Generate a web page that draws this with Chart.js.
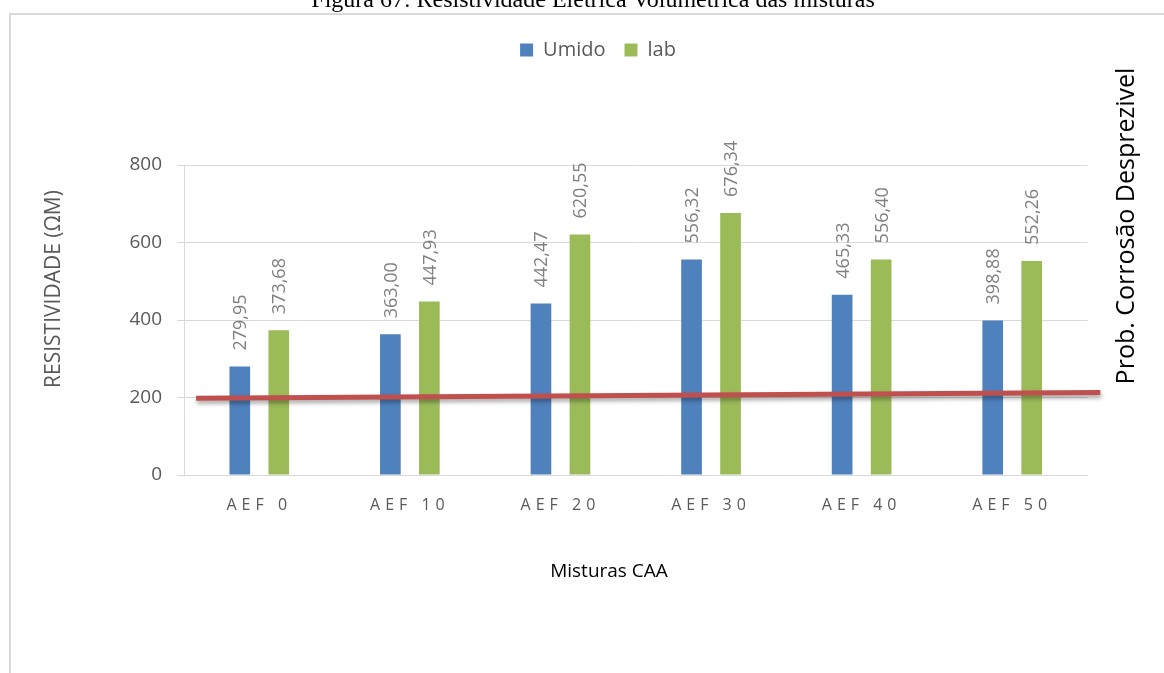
<!DOCTYPE html>
<html>
<head>
<meta charset="utf-8">
<script src="https://cdn.jsdelivr.net/npm/chart.js@4.4.1/dist/chart.umd.min.js"></script>
<style>
  html, body { margin: 0; padding: 0; background: #fff; overflow: hidden; }
  canvas { display: block; }
</style>
</head>
<body>
<canvas id="grafico" width="1164" height="673"></canvas>
<script>
// Misturas e resistividade elétrica volumétrica (Ω·m)
const categorias = ['AEF 0', 'AEF 10', 'AEF 20', 'AEF 30', 'AEF 40', 'AEF 50'];
const umido = [279.95, 363.00, 442.47, 556.32, 465.33, 398.88];
const lab = [373.68, 447.93, 620.55, 676.34, 556.40, 552.26];
// linha de referência (limite de corrosão desprezível), em unidades de categoria
const limiteX = [-0.42, 5.585];
const limiteY = [198, 213];
const yMin = 0, yMax = 800, yPasso = 200;

const FONTE = '"Open Sans", "DejaVu Sans", sans-serif';
const CINZA = '#595959';

const fmt = v => v.toFixed(2).replace('.', ',');

const decoracao = {
  id: 'decoracao',
  beforeDraw(chart) {
    const ctx = chart.ctx;
    ctx.save();
    ctx.fillStyle = '#fff';
    ctx.fillRect(0, 0, chart.width, chart.height);
    // moldura do gráfico
    ctx.strokeStyle = '#d9d9d9';
    ctx.lineWidth = 2;
    ctx.beginPath();
    ctx.moveTo(10, chart.height + 5);
    ctx.lineTo(10, 14);
    ctx.lineTo(chart.width + 5, 14);
    ctx.stroke();
    // legenda da figura
    ctx.fillStyle = '#000';
    ctx.font = '24px "Liberation Serif", "Times New Roman", serif';
    ctx.textAlign = 'center';
    ctx.textBaseline = 'alphabetic';
    ctx.fillText('Figura 67: Resistividade Elétrica Volumétrica das misturas', 593, 7);
    ctx.restore();

    // rótulos do eixo x espaçados
    const xs = chart.scales.x;
    if (xs && !xs._espacado) {
      const original = xs.drawLabels;
      xs.drawLabels = function (area) {
        const c = this.ctx;
        c.save();
        c.letterSpacing = '5px';
        original.call(this, area);
        c.restore();
      };
      xs._espacado = true;
    }
  },
  beforeDatasetDraw(chart, args) {
    if (args.meta.type === 'line') {
      const ctx = chart.ctx;
      ctx.save();
      ctx.shadowColor = 'rgba(0,0,0,0.35)';
      ctx.shadowBlur = 4;
      ctx.shadowOffsetX = 1;
      ctx.shadowOffsetY = 3;
    }
  },
  afterDatasetDraw(chart, args) {
    if (args.meta.type === 'line') chart.ctx.restore();
  },
  afterDatasetsDraw(chart) {
    const ctx = chart.ctx;
    ctx.save();
    ctx.font = '18px ' + FONTE;
    ctx.fillStyle = '#808080';
    ctx.textAlign = 'left';
    ctx.textBaseline = 'alphabetic';
    chart.data.datasets.forEach((ds, i) => {
      const meta = chart.getDatasetMeta(i);
      if (meta.type !== 'bar') return;
      meta.data.forEach((bar, j) => {
        ctx.save();
        ctx.translate(bar.x + 6.5, bar.y - 16);
        ctx.rotate(-Math.PI / 2);
        ctx.fillText(fmt(ds.data[j]), 0, 0);
        ctx.restore();
      });
    });
    ctx.restore();
  },
  afterDraw(chart) {
    const ctx = chart.ctx;
    ctx.save();
    ctx.textAlign = 'center';
    ctx.textBaseline = 'alphabetic';
    // título do eixo y
    ctx.fillStyle = CINZA;
    ctx.font = '21px ' + FONTE;
    ctx.save();
    ctx.translate(59.5, 289);
    ctx.rotate(-Math.PI / 2);
    ctx.fillText('RESISTIVIDADE (ΩM)', 0, 0);
    ctx.restore();
    // título do eixo x
    ctx.fillStyle = '#000';
    ctx.font = '19px ' + FONTE;
    ctx.fillText('Misturas CAA', 609, 577);
    // faixa de probabilidade de corrosão
    ctx.font = '25px ' + FONTE;
    ctx.save();
    ctx.translate(1134, 226);
    ctx.rotate(-Math.PI / 2);
    ctx.fillText('Prob. Corrosão Desprezivel', 0, 0);
    ctx.restore();
    ctx.restore();
  }
};

Chart.defaults.font.family = FONTE;

new Chart(document.getElementById('grafico'), {
  type: 'bar',
  data: {
    labels: categorias,
    datasets: [
      {
        label: 'Umido',
        data: umido,
        xAxisID: 'x',
        backgroundColor: '#4F81BD',
        borderWidth: 0,
        categoryPercentage: 0.518,
        barPercentage: 0.53,
        order: 1
      },
      {
        label: 'lab',
        data: lab,
        xAxisID: 'x',
        backgroundColor: '#9BBB59',
        borderWidth: 0,
        categoryPercentage: 0.518,
        barPercentage: 0.53,
        order: 1
      },
      {
        type: 'line',
        label: 'limite',
        // posições fracionárias na escala de categorias
        parsing: false,
        data: limiteX.map((x, i) => ({ x, y: limiteY[i] })),
        xAxisID: 'x',
        borderColor: '#C0504D',
        borderWidth: 5,
        borderCapStyle: 'butt',
        pointRadius: 0,
        fill: false,
        clip: false,
        order: 0
      }
    ]
  },
  options: {
    responsive: false,
    animation: false,
    devicePixelRatio: 1,
    layout: { padding: { left: 108.5, right: 76.5, top: 21, bottom: 138 } },
    plugins: {
      legend: {
        display: true,
        position: 'top',
        labels: {
          color: CINZA,
          font: { size: 20, family: FONTE },
          boxWidth: 13,
          boxHeight: 13,
          padding: 19,
          filter: item => item.text !== 'limite'
        }
      },
      tooltip: { enabled: false },
      title: { display: false }
    },
    scales: {
      x: {
        type: 'category',
        position: 'bottom',
        grid: { display: false, drawTicks: false },
        border: { display: true, color: '#d9d9d9', width: 1 },
        ticks: { color: CINZA, font: { size: 16, family: FONTE }, padding: 21, maxRotation: 0, autoSkip: false },
        afterFit(s) { s.height = 60; }
      },
      // espaço entre a legenda e a área do gráfico
      topo: {
        type: 'category',
        position: 'top',
        display: true,
        grid: { display: false, drawTicks: false },
        border: { display: false },
        ticks: { display: false },
        afterFit(s) { s.height = 95; }
      },
      y: {
        type: 'linear',
        min: yMin,
        max: yMax,
        ticks: { stepSize: yPasso, color: CINZA, font: { size: 19, family: FONTE }, padding: 15 },
        grid: { color: '#d9d9d9', lineWidth: 1, tickLength: 7, drawTicks: true },
        border: { display: true, color: '#d9d9d9', width: 1 },
        afterFit(s) { s.width = 75.5; }
      }
    }
  },
  plugins: [decoracao]
});
</script>
</body>
</html>
